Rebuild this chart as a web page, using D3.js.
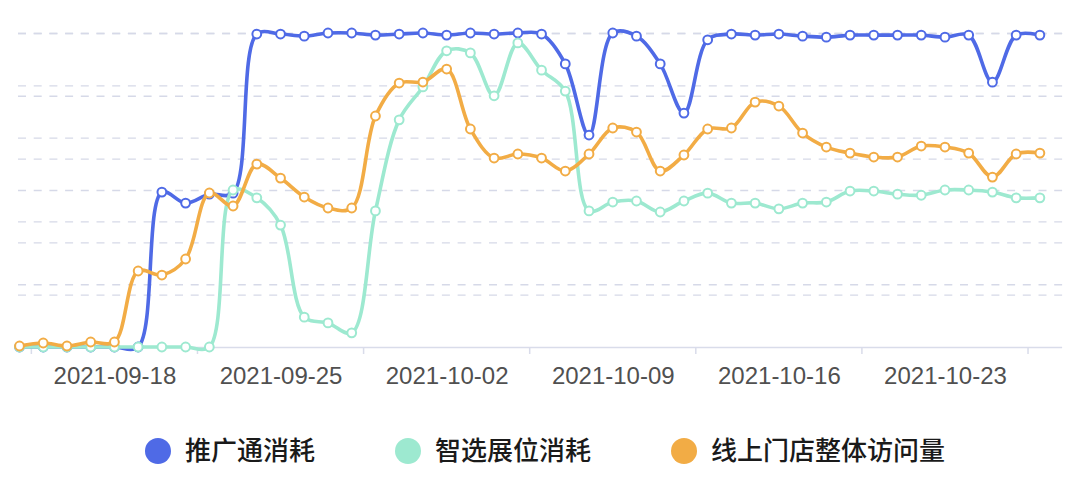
<!DOCTYPE html>
<html>
<head>
<meta charset="utf-8">
<script src="https://cdn.jsdelivr.net/npm/d3@7"></script>
<style>
  html, body { margin: 0; padding: 0; background: #fff; }
  svg { display: block; }
</style>
</head>
<body>
<svg id="chart" width="1080" height="496"></svg>
<script>
// ---- data ----
const dates = [
  "2021-09-14","2021-09-15","2021-09-16","2021-09-17","2021-09-18","2021-09-19","2021-09-20",
  "2021-09-21","2021-09-22","2021-09-23","2021-09-24","2021-09-25","2021-09-26","2021-09-27",
  "2021-09-28","2021-09-29","2021-09-30","2021-10-01","2021-10-02","2021-10-03","2021-10-04",
  "2021-10-05","2021-10-06","2021-10-07","2021-10-08","2021-10-09","2021-10-10","2021-10-11",
  "2021-10-12","2021-10-13","2021-10-14","2021-10-15","2021-10-16","2021-10-17","2021-10-18",
  "2021-10-19","2021-10-20","2021-10-21","2021-10-22","2021-10-23","2021-10-24","2021-10-25",
  "2021-10-26","2021-10-27"
];
const tickLabels = ["2021-09-18","2021-09-25","2021-10-02","2021-10-09","2021-10-16","2021-10-23"];
const tickMarks = ["2021-09-14","2021-09-21","2021-09-28","2021-10-05","2021-10-12","2021-10-19","2021-10-26"];
const seriesNames = ["推广通消耗","智选展位消耗","线上门店整体访问量"];
// 推广通消耗 (left axis)
const tuiguangtong = [0,0,0,0,0,0,296,275,292,294,598,598,594,600,600,596,598,600,596,600,598,600,598,541,405,600,594,541,447,587,598,596,598,594,592,596,596,596,596,592,596,506,596,596];
// 智选展位消耗 (left axis)
const zhixuan = [0,0,0,0,0,0,0,0,0,300,285,233,57,46,27,260,434,497,566,562,480,581,529,489,260,277,279,258,279,294,275,275,264,275,277,298,298,292,290,300,300,296,285,285];
// 线上门店整体访问量 (right axis)
const fangwen = [16,64,16,80,80,1210,1146,1401,2452,2245,2913,2690,2388,2213,2213,3678,4203,4219,4426,3471,3009,3073,3009,2802,3073,3487,3423,2802,3057,3471,3487,3900,3837,3407,3184,3088,3025,3025,3200,3184,3088,2706,3073,3088];
const leftTicks = [100,200,300,400,500,600];
const rightTicks = [1000,2000,3000,4000,5000];
const colors = ["#4f6ae6","#9de9d0","#f2ac45"];

// ---- layout ----
const svg = d3.select("#chart");
const x0 = 19.5, step = 23.73;
const yBottom = 347, yTop = 33;
const xBand = d3.scaleBand().domain(dates).range([x0, x0 + dates.length * step]).padding(0);
const xp = d3.scalePoint().domain(dates).range([x0, x0 + (dates.length - 1) * step]);
const yL = d3.scaleLinear().domain([0, 600]).range([yBottom, yTop]);
const yR = d3.scaleLinear().domain([0, 5000]).range([yBottom, yTop]);
const gridLeft = x0 - 1.5, gridRight = x0 + dates.length * step - 1.5;

// gridlines
function grid(scale, ticks) {
  const g = svg.append("g").attr("transform", `translate(${gridLeft},0)`)
    .call(d3.axisLeft(scale).tickValues(ticks).tickSize(-(gridRight - gridLeft)).tickFormat(""));
  g.select(".domain").remove();
  g.selectAll(".tick line").attr("stroke", "#d6d9e8").attr("stroke-width", 1.4).attr("stroke-dasharray", "8,7.7");
}
grid(yL, leftTicks);
grid(yR, rightTicks);

// x axis: line + ticks
const gx = svg.append("g").attr("transform", `translate(0,${yBottom})`)
  .call(d3.axisBottom(xBand).tickValues(tickMarks).tickSize(7).tickSizeOuter(0).tickFormat(""));
gx.select(".domain").attr("d", `M${gridLeft},0.5H${gridRight}`).attr("stroke", "#d9dcea").attr("stroke-width", 1.5);
gx.selectAll(".tick line").attr("stroke", "#d9dcea").attr("stroke-width", 1.5);

// x labels
const gl = svg.append("g").attr("transform", `translate(0,${yBottom})`)
  .call(d3.axisBottom(xp).tickValues(tickLabels).tickSize(0).tickPadding(20));
gl.select(".domain").remove();
gl.selectAll("text").attr("font-family", "'Liberation Sans', Arial, sans-serif")
  .attr("font-size", 24).attr("fill", "#505050");

// series
const series = [
  { values: tuiguangtong, y: yL, color: colors[0] },
  { values: zhixuan, y: yL, color: colors[1] },
  { values: fangwen, y: yR, color: colors[2] }
];
series.forEach(s => {
  const line = d3.line()
    .x((d, i) => xp(dates[i]))
    .y(d => s.y(d))
    .curve(d3.curveCatmullRom.alpha(0.5));
  svg.append("path").datum(s.values)
    .attr("d", line).attr("fill", "none")
    .attr("stroke", s.color).attr("stroke-width", 3.6)
    .attr("stroke-linejoin", "round").attr("stroke-linecap", "round");
  svg.append("g").selectAll("circle").data(s.values).join("circle")
    .attr("cx", (d, i) => xp(dates[i]))
    .attr("cy", d => s.y(d))
    .attr("r", 4.4)
    .attr("fill", "#fff")
    .attr("stroke", s.color).attr("stroke-width", 2);
});

// legend
const legendY = 451;
const lg = svg.append("g");
const items = lg.selectAll("g").data(seriesNames).join("g");
items.append("circle").attr("r", 13).attr("cx", 13).attr("cy", 0).attr("fill", (d, i) => colors[i]);
items.append("text").attr("x", 40).attr("y", 0).attr("dy", "0.36em")
  .attr("font-family", "'Noto Sans CJK SC', sans-serif")
  .attr("font-size", 26).attr("font-weight", 500).attr("fill", "#1a1a1a")
  .text(d => d);
let widths = [];
items.each(function() { widths.push(this.getBBox().width); });
const gap = 80;
const total = d3.sum(widths) + gap * (widths.length - 1);
let cur = 545 - total / 2;
items.attr("transform", (d, i) => { const t = `translate(${cur},${legendY})`; cur += widths[i] + gap; return t; });
</script>
</body>
</html>
